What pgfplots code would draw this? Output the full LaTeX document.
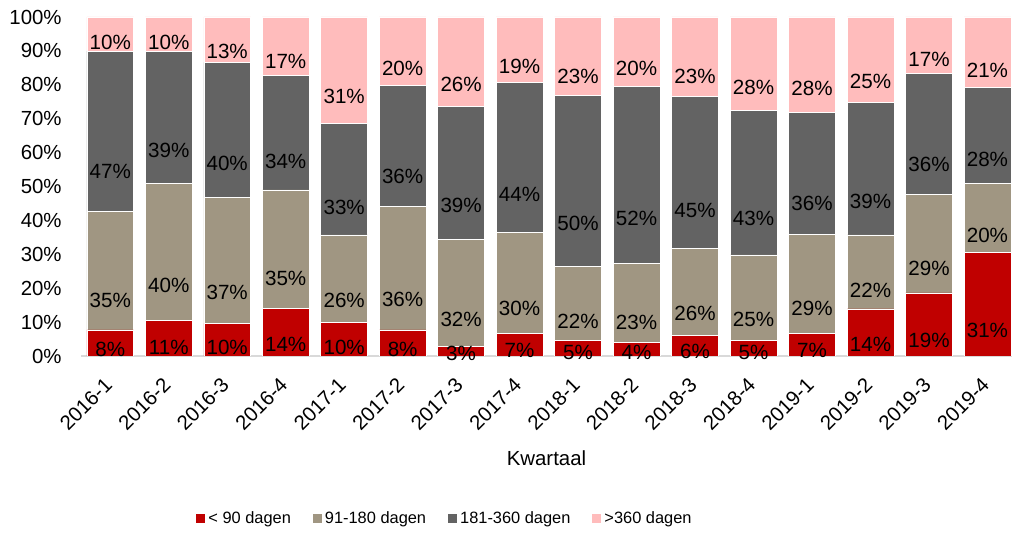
\documentclass[border=0pt]{standalone}
\usepackage{fontspec}
\setmainfont{Liberation Sans}
\usepackage{pgfplots}
\usepackage{pgfplotstable}
\pgfplotsset{compat=1.18}
\definecolor{cRed}{HTML}{C00000}
\definecolor{cTan}{HTML}{A09682}
\definecolor{cDark}{HTML}{636363}
\definecolor{cPink}{HTML}{FFBCBC}
\definecolor{cAxis}{HTML}{D9D9D9}
\pgfplotstableread{
x a b c d
0 7.7 34.9 47.3 10.1
1 10.6 40.4 38.9 10.1
2 9.6 37.1 39.9 13.4
3 14.1 34.9 33.7 17.3
4 9.8 25.9 33.0 31.3
5 7.7 36.4 35.7 20.2
6 2.8 31.7 39.1 26.4
7 6.7 29.8 44.1 19.4
8 4.7 21.8 50.3 23.2
9 4.0 23.4 52.2 20.4
10 6.0 25.8 44.8 23.4
11 4.6 25.2 42.6 27.6
12 6.6 29.3 35.9 28.2
13 13.9 21.8 39.1 25.2
14 18.6 29.1 35.7 16.6
15 30.6 20.4 28.2 20.8
}\data
\begin{document}
\begin{tikzpicture}
\useasboundingbox (0,0) rectangle (506pt,267pt);
\begin{axis}[
  at={(40.5pt,89pt)}, anchor=south west,
  scale only axis, width=465.5pt, height=169.5pt,
  ybar stacked, bar width=0.8,
  xmin=-0.5, xmax=15.42, ymin=0, ymax=100,
  font=\fontsize{10.2}{12}\selectfont,
  /pgf/number format/assume math mode=true,
  axis x line*=bottom, axis y line*=left,
  x axis line style={draw=cAxis, line width=0.75pt},
  y axis line style={draw=none},
  xtick=data,
  xticklabels={2016-1,2016-2,2016-3,2016-4,2017-1,2017-2,2017-3,2017-4,2018-1,2018-2,2018-3,2018-4,2019-1,2019-2,2019-3,2019-4},
  xticklabel style={xshift=-3.5pt, yshift=-10pt, rotate=45, anchor=north east, inner sep=0pt},
  ytick={0,10,...,100},
  yticklabel={\pgfmathprintnumber{\tick}\%},
  yticklabel style={inner sep=0pt, xshift=-9.5pt},
  major tick length=0pt,
  tick style={draw=none},
  xlabel={Kwartaal},
  xlabel style={at={(axis description cs:0.5,-0.301)}, anchor=center},
  nodes near coords={\pgfmathprintnumber[fixed,precision=0]{\pgfplotspointmeta}\%},
  every node near coord/.append style={anchor=center, font=\fontsize{10.3}{12}\selectfont, text=black, yshift=-\segh*0.42375pt},
  legend columns=4,
  legend style={at={(axis description cs:0.1235,-0.4808)}, anchor=west, draw=none, inner sep=0pt,
    font=\fontsize{8.2}{10}\selectfont,
    nodes={inner sep=1.5pt},
    /tikz/every even column/.append style={column sep=9.5pt}},
  legend image code/.code={\fill[#1,draw=none] (0pt,-2.25pt) rectangle (4.5pt,2.25pt);},
]
\addplot[fill=cRed, draw=white, line width=0.3pt, visualization depends on={\thisrow{a} \as \segh}] table[x=x, y=a, meta=a] {\data};
\addplot[fill=cTan, draw=white, line width=0.3pt, visualization depends on={\thisrow{b} \as \segh}] table[x=x, y=b, meta=b] {\data};
\addplot[fill=cDark, draw=white, line width=0.3pt, visualization depends on={\thisrow{c} \as \segh}] table[x=x, y=c, meta=c] {\data};
\addplot[fill=cPink, draw=white, line width=0.3pt, visualization depends on={\thisrow{d} \as \segh}] table[x=x, y=d, meta=d] {\data};
\legend{< 90 dagen, 91-180 dagen, 181-360 dagen, >360 dagen}
\end{axis}
\end{tikzpicture}
\end{document}
